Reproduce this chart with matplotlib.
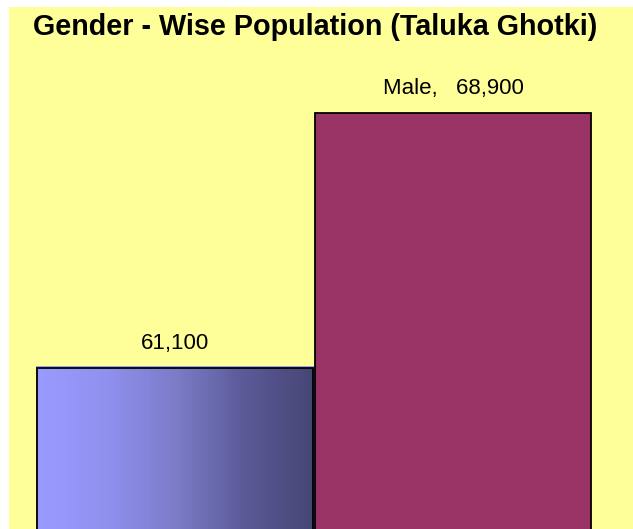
import matplotlib
matplotlib.use("Agg")
import matplotlib.pyplot as plt
import numpy as np
from matplotlib.colors import LinearSegmentedColormap
from matplotlib.patches import Rectangle

title = "Gender - Wise Population (Taluka Ghotki)"
categories = ["Female", "Male"]
values = [61100, 68900]
labels = ["61,100", "Male,   68,900"]

W, H = 633, 529
fig = plt.figure(figsize=(W / 100, H / 100), dpi=100)
fig.patch.set_facecolor("white")

# yellow chart area as a background axes
bg = fig.add_axes([9 / W, 0, (W - 9) / W, (H - 7) / H], zorder=-5)
bg.set_facecolor("#FFFF99")
bg.set_xticks([])
bg.set_yticks([])
for s in bg.spines.values():
    s.set_visible(False)

fig.text(315 / W, 1 - 35 / H, title, ha="center", va="baseline",
         fontsize=20.7, fontweight="bold", family="Liberation Sans")

# axes placement (pixels)
ax_left, ax_right, ax_top, ax_bottom = 36, 592, 50, 529
ax = fig.add_axes([ax_left / W, 1 - ax_bottom / H, (ax_right - ax_left) / W,
                   (ax_bottom - ax_top) / H], zorder=1)
ax.set_facecolor("none")
for s in ax.spines.values():
    s.set_visible(False)
ax.set_xticks([])
ax.set_yticks([])

# scale from bar tops: left top at 368 px, right at 113 px
ppu = (368 - 113) / (values[1] - values[0])
ymin = values[0] - (ax_bottom - 368) / ppu
ymax = values[1] + (113 - ax_top) / ppu

x = np.arange(len(categories))
bars = ax.bar(x, values, width=0.995, bottom=0, color=["none", "#993366"],
              edgecolor=["#9999EE", "black"], linewidth=[3.5, 1.3],
              zorder=1.5)

# gradient for first bar
cmap = LinearSegmentedColormap.from_list(
    "g", [(0, "#9B9BFF"), (0.25, "#9090F0"), (0.5, "#7C7CC8"),
          (0.75, "#5A5A98"), (1, "#464675")])
p = bars[0]
grad = np.linspace(0, 1, 256).reshape(1, -1)
im = ax.imshow(grad, cmap=cmap, aspect="auto", zorder=2,
               extent=[p.get_x(), p.get_x() + p.get_width(), p.get_y(),
                       p.get_y() + p.get_height()])
im.set_clip_path(p)
ax.add_patch(Rectangle((p.get_x(), p.get_y()), p.get_width(), p.get_height(),
                       fill=False, edgecolor="black", linewidth=1.3, zorder=3))
bars[1].set_zorder(3)
ax.set_xlim(-0.5, 1.5)
ax.set_ylim(ymin, ymax)

for b, lab in zip(bars, labels):
    ax.annotate(lab, (b.get_x() + b.get_width() / 2, b.get_height()),
                xytext=(0, 18), textcoords="offset points", ha="center",
                va="center", fontsize=16, family="Liberation Sans")

fig.savefig("out.png", dpi=100)
